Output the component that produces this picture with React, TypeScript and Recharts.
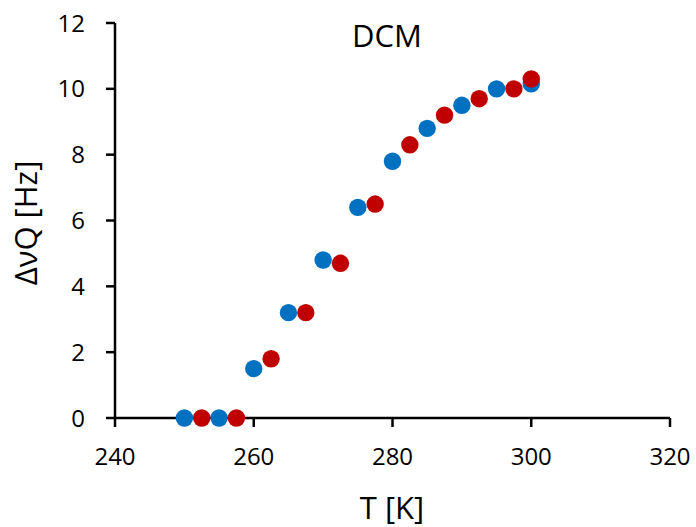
import React from 'react';
import { ScatterChart, Scatter, XAxis, YAxis, Customized } from 'recharts';

const blueT = [250, 255, 260, 265, 270, 275, 280, 285, 290, 295, 300];
const blueV = [0, 0, 1.5, 3.2, 4.8, 6.4, 7.8, 8.8, 9.5, 10.0, 10.15];
const redT = [252.5, 257.5, 262.5, 267.5, 272.5, 277.5, 282.5, 287.5, 292.5, 297.5, 300];
const redV = [0, 0, 1.8, 3.2, 4.7, 6.5, 8.3, 9.2, 9.7, 10.0, 10.3];
const xTicks = [240, 260, 280, 300, 320];
const yTicks = [0, 2, 4, 6, 8, 10, 12];
const title = 'DCM';
const xLabel = 'T [K]';
const yLabel = 'ΔνQ [Hz]';

const blueData = blueT.map((t, i) => ({ t, v: blueV[i] }));
const redData = redT.map((t, i) => ({ t, v: redV[i] }));

const FONT = '"Open Sans", sans-serif';
const BLUE = '#0070C0';
const RED = '#C00000';

const makeDot = (color: string) => (props: any) => (
  <circle cx={props.cx} cy={props.cy} r={8.7} fill={color} />
);

const Texts = () => (
  <g fontFamily={FONT} fill="#000">
    <text x={387} y={47} textAnchor="middle" fontSize={31}>{title}</text>
    <text x={392} y={519} textAnchor="middle" fontSize={31}>{xLabel}</text>
    <text x={37} y={223} textAnchor="middle" fontSize={31} transform="rotate(-90, 37, 223)">{yLabel}</text>
  </g>
);

export default function App() {
  const axisStyle = { fontSize: 24, fontFamily: FONT, fill: '#000' };
  return (
    <div style={{ position: 'absolute', left: 0, top: 0, background: '#fff' }}>
      <ScatterChart width={696} height={527} margin={{ top: 23, right: 26, left: 0, bottom: 0 }}>
        <XAxis
          type="number"
          dataKey="t"
          domain={[240, 320]}
          ticks={xTicks}
          height={109}
          tickSize={9}
          tickMargin={21}
          stroke="#000"
          strokeWidth={2.5}
          tick={axisStyle}
          axisLine={{ stroke: '#000', strokeWidth: 2.5 }}
          tickLine={{ stroke: '#000', strokeWidth: 2.5 }}
        />
        <YAxis
          type="number"
          dataKey="v"
          domain={[0, 12]}
          ticks={yTicks}
          width={115}
          tickSize={9}
          tickMargin={21}
          stroke="#000"
          strokeWidth={2.5}
          tick={axisStyle}
          axisLine={{ stroke: '#000', strokeWidth: 2.5 }}
          tickLine={{ stroke: '#000', strokeWidth: 2.5 }}
        />
        <Scatter data={blueData} fill={BLUE} shape={makeDot(BLUE)} isAnimationActive={false} />
        <Scatter data={redData} fill={RED} shape={makeDot(RED)} isAnimationActive={false} />
        <Customized component={Texts} />
      </ScatterChart>
    </div>
  );
}
